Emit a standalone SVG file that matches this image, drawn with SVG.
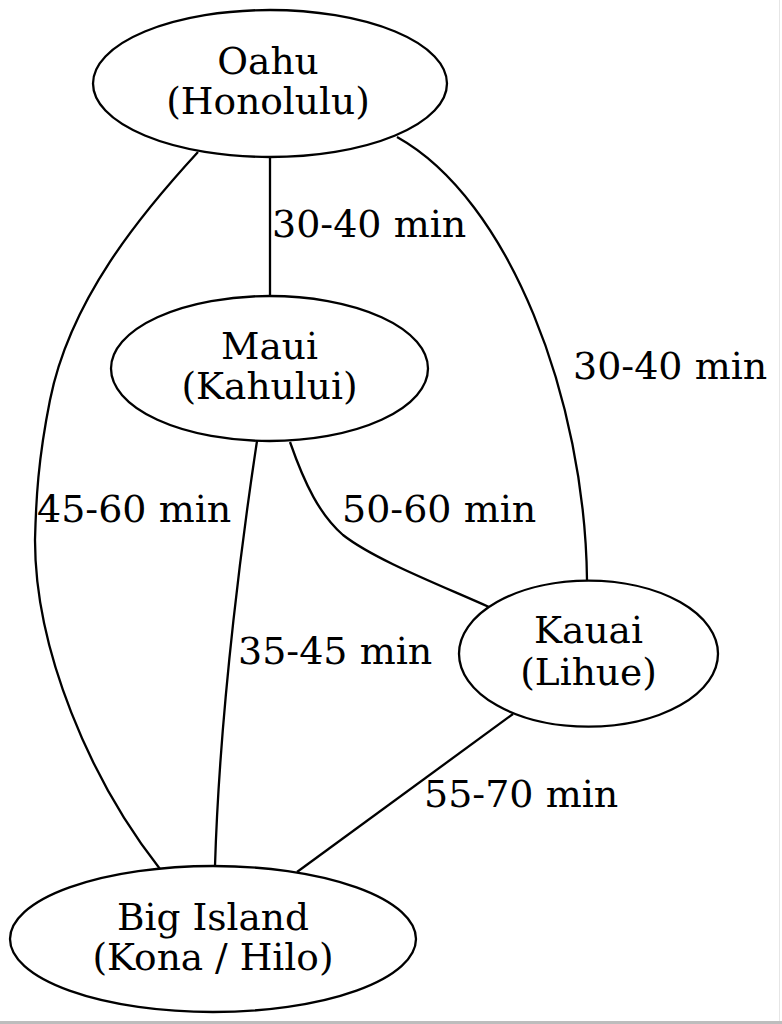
<svg xmlns="http://www.w3.org/2000/svg" width="782" height="1024" viewBox="0 0 782 1024">
<style>
.node ellipse{fill:#ffffff;stroke:#000000;stroke-width:2.3}
.edge path{fill:none;stroke:#000000;stroke-width:2.3}
text{font-family:"DejaVu Serif","Liberation Serif",serif;fill:#000000}
.edge text{font-size:38px}
.node text{font-size:37.5px;text-anchor:middle}
</style>
<rect x="0" y="0" width="782" height="1024" fill="#ffffff"/>
<rect x="0" y="1021" width="782" height="3" fill="#bdbdbd"/>
<line x1="779.5" y1="0" x2="779.5" y2="1021" stroke="#e6e6e6" stroke-width="1"/>
<g id="edges">
<g class="edge" id="e_oahu_maui"><path d="M270,157 L270,296"/><text x="272" y="237">30-40 min</text></g>
<g class="edge" id="e_oahu_kauai"><path d="M397,137 C510,200 585,400 587,580"/><text x="573" y="379">30-40 min</text></g>
<g class="edge" id="e_oahu_big"><path d="M198,152 C140,215 70,300 50,400 C38,460 36,500 35,540 C35,650 90,780 160,869"/><text x="37" y="522">45-60 min</text></g>
<g class="edge" id="e_maui_kauai"><path d="M290,442 C305,485 320,515 343,535 C375,560 440,585 489,607"/><text x="342" y="522">50-60 min</text></g>
<g class="edge" id="e_maui_big"><path d="M257,441 C245,520 220,700 215,866"/><text x="238" y="664">35-45 min</text></g>
<g class="edge" id="e_kauai_big"><path d="M513,714 L297,872"/><text x="424" y="807">55-70 min</text></g>
</g>
<g class="node" id="oahu"><ellipse cx="270" cy="83.5" rx="177" ry="73.5"/><text x="268" y="74">Oahu</text><text x="268" y="114">(Honolulu)</text></g>
<g class="node" id="maui"><ellipse cx="269.5" cy="368.5" rx="158.5" ry="72.5"/><text x="269.5" y="359">Maui</text><text x="269.5" y="399">(Kahului)</text></g>
<g class="node" id="kauai"><ellipse cx="588.5" cy="653.7" rx="129.5" ry="73"/><text x="588.5" y="643">Kauai</text><text x="588.5" y="685">(Lihue)</text></g>
<g class="node" id="bigisland"><ellipse cx="213" cy="939" rx="203" ry="73"/><text x="213" y="930">Big Island</text><text x="213" y="970">(Kona / Hilo)</text></g>
</svg>
